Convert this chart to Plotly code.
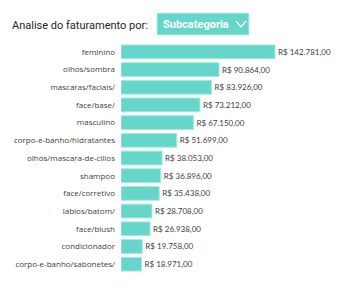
import plotly.graph_objects as go

categories = ["feminino", "olhos/sombra", "mascaras/faciais/", "face/base/", "masculino",
              "corpo-e-banho/hidratantes", "olhos/mascara-de-cilios", "shampoo", "face/corretivo",
              "labios/batom/", "face/blush", "condicionador", "corpo-e-banho/sabonetes/"]
values = [142781, 90864, 83926, 73212, 67150, 51699, 38053, 36896, 35438, 28708, 26938, 19758, 18971]

BAR = "#66D6CA"
FONT = "Open Sans, Noto Sans, sans-serif"

fig = go.Figure(go.Bar(
    x=values, y=categories, orientation="h",
    marker=dict(color=BAR, line=dict(color="#A8E8E0", width=1)),
    texttemplate="R$ %{x:,.2f}", textposition="outside", cliponaxis=False,
    textfont=dict(size=8, color="#404040", family="Lato, sans-serif"),
    width=0.78,
))

fig.update_layout(
    width=363, height=297,
    margin=dict(l=121, r=0, t=43, b=24),
    paper_bgcolor="white", plot_bgcolor="white",
    separators=",.",
    showlegend=False,
    font=dict(family=FONT, size=8, color="#404040"),
    xaxis=dict(range=[0, 224370], visible=False, fixedrange=True),
    yaxis=dict(autorange="reversed", showgrid=False, zeroline=False, showline=False,
               ticks="", ticklabelstandoff=5,
               tickfont=dict(size=8, color="#404040", family=FONT)),
)

fig.add_annotation(
    xref="paper", yref="paper", x=(10 - 121) / 242, y=1 + (43 - 25) / 230, xanchor="left", yanchor="middle",
    text="Analise do faturamento por:", showarrow=False,
    font=dict(size=11, color="#252423", family="Roboto, sans-serif"),
)
# dropdown box
x0 = (157 - 121) / 242
x1 = (249 - 121) / 242
y0 = 1 + (43 - 35) / 230
y1 = 1 + (43 - 13) / 230
fig.add_shape(type="rect", xref="paper", yref="paper", x0=x0, x1=x1, y0=y0, y1=y1,
              fillcolor=BAR, line=dict(color="#B8EEE7", width=1), layer="above")
fig.add_annotation(
    xref="paper", yref="paper", x=(161 - 121) / 242, y=1 + (43 - 24.5) / 230,
    xanchor="left", yanchor="middle", text="<b>Subcategoria</b>", showarrow=False,
    font=dict(size=11, color="white", family="Roboto, sans-serif"),
)
# chevron
cx0 = (236 - 121) / 242
cx1 = (241 - 121) / 242
cx2 = (246 - 121) / 242
cyt = 1 + (43 - 21) / 230
cyb = 1 + (43 - 27) / 230
fig.add_shape(type="path", xref="paper", yref="paper",
              path=f"M {cx0} {cyt} L {cx1} {cyb} L {cx2} {cyt}",
              line=dict(color="white", width=1.2))

fig.write_html("out.html")
